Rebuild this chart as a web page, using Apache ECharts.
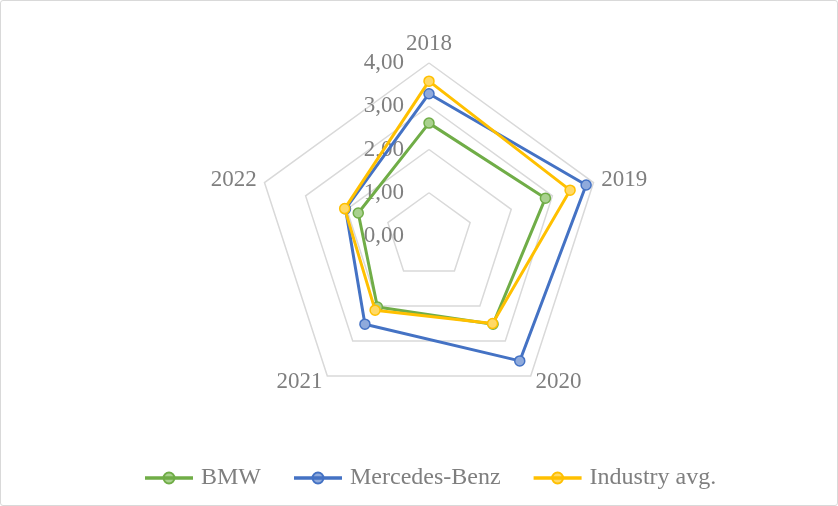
<!DOCTYPE html>
<html>
<head>
<meta charset="utf-8">
<script src="https://cdn.jsdelivr.net/npm/echarts@6/dist/echarts.min.js"></script>
<style>
html,body{margin:0;padding:0;background:#fff;}
#c{width:836px;height:504px;border:1px solid #d9d9d9;border-radius:3px;}
</style>
</head>
<body>
<div id="c"></div>
<script>
var categories = ['2018', '2019', '2020', '2021', '2022'];
var bmw = [2.61, 2.83, 2.52, 2.03, 1.72];
var mercedes = [3.29, 3.82, 3.57, 2.52, 2.03];
var industry = [3.58, 3.43, 2.50, 2.12, 2.05];
var tickLabels = ['0,00', '1,00', '2,00', '3,00', '4,00'];
var seriesNames = ['BMW', 'Mercedes-Benz', 'Industry avg.'];

var FONT = '"Liberation Serif", "Times New Roman", serif';
var TXT = '#7f7f7f';
var lineColors = ['#70ad47', '#4472c4', '#ffc000'];
var fillColors = ['#a9d18e', '#8faadc', '#ffd966'];

// ECharts places radar indicators counter-clockwise; reorder for clockwise layout
var order = [0, 4, 3, 2, 1];
function reorder(arr) { return order.map(function (i) { return arr[i]; }); }

var chart = echarts.init(document.getElementById('c'));
var allData = [bmw, mercedes, industry];
var legendIcon = 'path://M0,5.2 L46,5.2 L46,6.8 L0,6.8 Z M23,0.5 A5.5,5.5 0 1 1 22.99,0.5 Z';

chart.setOption({
  animation: false,
  legend: {
    bottom: 10,
    left: 139,
    itemWidth: 46,
    itemHeight: 12,
    itemGap: 33,
    icon: legendIcon,
    textStyle: { fontFamily: FONT, fontSize: 24, color: TXT, padding: [0, 0, 0, 4] },
    data: seriesNames
  },
  polar: { center: [428, 235], radius: 173 },
  angleAxis: { show: false, startAngle: 90, min: 0, max: 360 },
  radiusAxis: {
    min: 0, max: 4, interval: 1,
    axisLine: { show: false }, axisTick: { show: false }, splitLine: { show: false },
    axisLabel: {
      margin: 25,
      fontFamily: FONT, fontSize: 23, color: TXT,
      formatter: function (v) { return tickLabels[Math.round(v)]; }
    }
  },
  radar: {
    center: [428, 235],
    radius: 173,
    startAngle: 90,
    shape: 'polygon',
    splitNumber: 4,
    nameGap: 8,
    axisName: { fontFamily: FONT, fontSize: 23, color: TXT },
    axisLine: { show: false },
    axisTick: { show: false },
    axisLabel: { show: false },
    splitArea: { show: false },
    splitLine: { lineStyle: { color: '#d9d9d9', width: 1.5 } },
    indicator: reorder(categories).map(function (c) { return { name: c, min: 0, max: 4 }; })
  },
  series: seriesNames.map(function (n, k) {
    return {
      type: 'radar',
      name: n,
      symbol: 'circle',
      symbolSize: 10,
      lineStyle: { color: lineColors[k], width: 3 },
      itemStyle: { color: fillColors[k], borderColor: lineColors[k], borderWidth: 1.5 },
      z: 2 + k,
      data: [{ name: n, value: reorder(allData[k]) }]
    };
  }),
  color: lineColors
});
</script>
</body>
</html>
